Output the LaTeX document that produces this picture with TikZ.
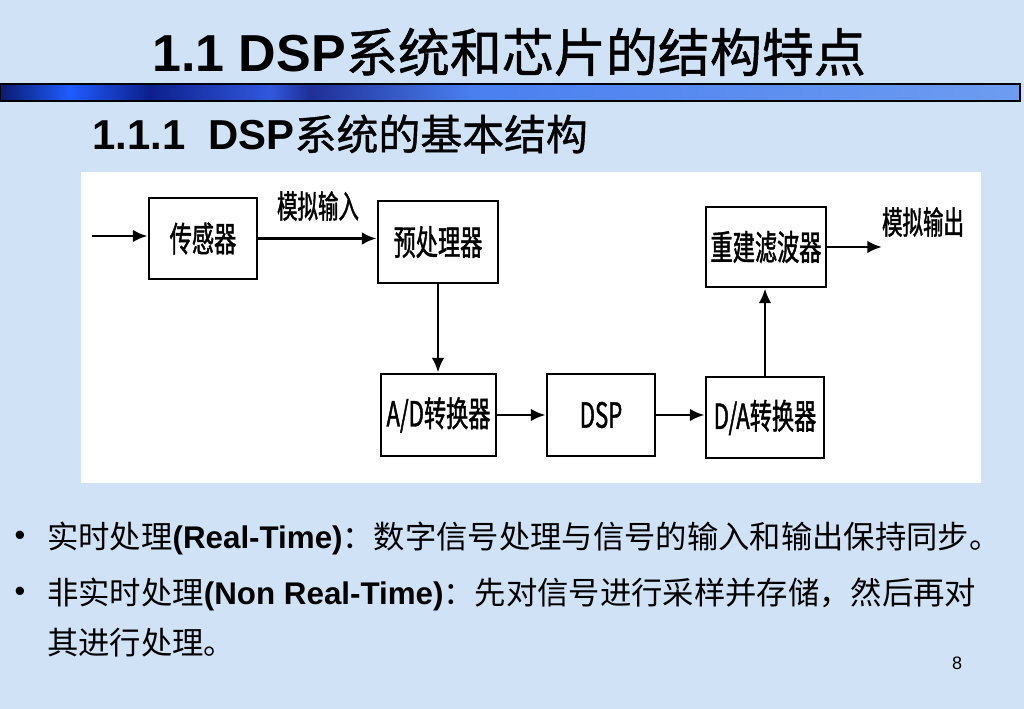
\documentclass[tikz,border=0pt]{standalone}
\usepackage{fontspec}
\usetikzlibrary{arrows.meta}
\setmainfont{Liberation Sans}
\newfontfamily\cjkfont{Noto Sans CJK SC}
\newfontfamily\cjkheavy[FakeBold=1]{Noto Sans CJK SC}
\newfontfamily\boxfont[FakeStretch=0.64,FakeBold=1.2]{Noto Sans CJK SC}
\newcommand{\zhtext}[1]{{\cjkfont #1}}
\definecolor{slidebg}{RGB}{208,226,245}

\begin{document}
\begin{tikzpicture}[x=0.75pt,y=-0.75pt,
  block/.style={draw,line width=2.2pt,fill=white,inner sep=0pt,
    font=\boxfont\fontsize{26}{26}\selectfont},
  flow/.style={line width=2.2pt,-{Latex[length=11pt,width=9.5pt]}},
  tag/.style={inner sep=0pt,font=\boxfont\fontsize{24}{24}\selectfont},
  textline/.style={anchor=west,inner sep=0pt,font=\fontsize{23.5}{23.5}\selectfont}]

\useasboundingbox (0,0) rectangle (1024,709) ;
\fill [slidebg] (0,0) rectangle (1024,709) ;

% title bar
\shade [left color={rgb,255:red,11;green,26;blue,110}, right color={rgb,255:red,31;green,92;blue,255}] (0,84) rectangle (70,101) ;
\shade [left color={rgb,255:red,31;green,92;blue,255}, right color={rgb,255:red,13;green,31;blue,140}] (70,84) rectangle (150,101) ;
\shade [left color={rgb,255:red,13;green,31;blue,140}, right color={rgb,255:red,50;green,88;blue,222}] (150,84) rectangle (270,101) ;
\shade [left color={rgb,255:red,50;green,88;blue,222}, right color={rgb,255:red,31;green,47;blue,149}] (270,84) rectangle (310,101) ;
\shade [left color={rgb,255:red,31;green,47;blue,149}, right color={rgb,255:red,74;green,127;blue,240}] (310,84) rectangle (470,101) ;
\shade [left color={rgb,255:red,74;green,127;blue,240}, right color={rgb,255:red,109;green,156;blue,240}] (470,84) rectangle (1020,101) ;
\draw [line width=.8pt] (0,84) rectangle (1020,101) ;

\node [anchor=west, inner sep=0pt, font=\fontsize{39}{39}\selectfont] (title) at (152,52)
  {\textbf{1.1 DSP}{\cjkheavy 系统和芯片的结构特点}} ;
\node [anchor=west, inner sep=0pt, font=\fontsize{31.4}{31.4}\selectfont] (subtitle) at (92,134)
  {\textbf{1.1.1\ \ DSP}{\cjkheavy 系统的基本结构}} ;

% diagram
\fill [white] (81,172) rectangle (981,483) ;

\node [block, minimum width=81pt, minimum height=60.75pt] (sensor) at (203,238.5) {传感器} ;
\node [block, minimum width=90pt, minimum height=61.5pt] (pre) at (438,242) {预处理器} ;
\node [block, minimum width=86.25pt, minimum height=61.5pt] (ad) at (438.5,415) {A/D转换器} ;
\node [block, minimum width=81pt, minimum height=61.5pt] (dsp) at (601,415) {DSP} ;
\node [block, minimum width=88.5pt, minimum height=60.75pt] (da) at (765,417.5) {D/A转换器} ;
\node [block, minimum width=90pt, minimum height=60pt] (filt) at (766,247) {重建滤波器} ;

\coordinate (in) at (92,236) ;
\coordinate (out) at (882,247) ;

\draw [flow] (in) -- (in -| sensor.west) ;
\draw [flow] (sensor.east) -- (sensor.east -| pre.west) ;
\draw [flow] (pre.south) -- (pre.south |- ad.north) ;
\draw [flow] (ad.east) -- (ad.east -| dsp.west) ;
\draw [flow] (dsp.east) -- (dsp.east -| da.west) ;
\draw [flow] (da.north) -- (da.north |- filt.south) ;
\draw [flow] (filt.east) -- (out) ;

\node [tag] (inlabel) at (318,206) {模拟输入} ;
\node [tag] (outlabel) at (923,222) {模拟输出} ;

% bullets
\node [inner sep=0pt, font=\fontsize{23}{23}\selectfont] (dot1) at (20,538) {•} ;
\node [inner sep=0pt, font=\fontsize{23}{23}\selectfont] (dot2) at (20,594) {•} ;
\node [textline] (line1) at (47,538)
  {\zhtext{实时处理}\textbf{(Real-Time)}\zhtext{：数字信号处理与信号的输入和输出保持同步。}} ;
\node [textline] (line2) at (47,594)
  {\zhtext{非实时处理}\textbf{(Non Real-Time)}\zhtext{：先对信号进行采样并存储，然后再对}} ;
\node [textline] (line3) at (47,643)
  {\zhtext{其进行处理。}} ;

\node [inner sep=0pt, font=\fontsize{13.5}{13.5}\selectfont] (page) at (957,663) {8} ;

\end{tikzpicture}
\end{document}
